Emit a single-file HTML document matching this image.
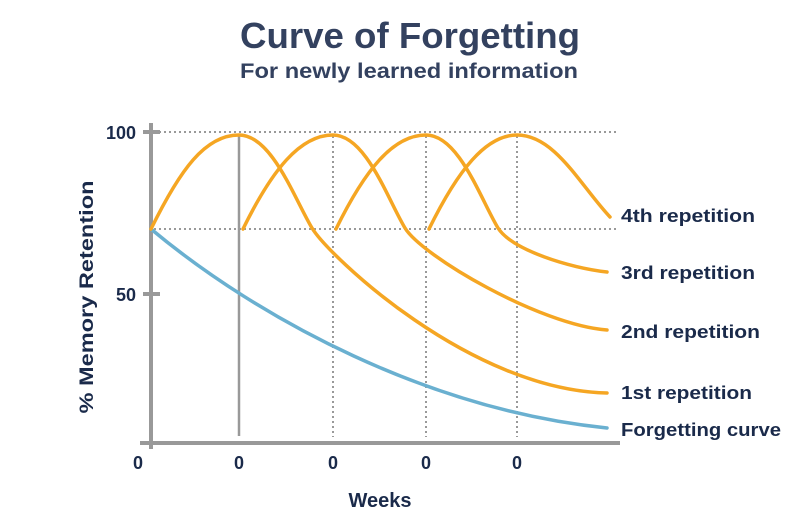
<!DOCTYPE html>
<html><head><meta charset="utf-8"><style>
html,body{margin:0;padding:0;background:#fff;}
svg{display:block;}
text{font-family:"Liberation Sans",sans-serif;font-weight:bold;}
</style></head><body>
<svg width="800" height="529" viewBox="0 0 800 529" xmlns="http://www.w3.org/2000/svg">
<rect width="800" height="529" fill="#fff"/>
<text x="410" y="48" text-anchor="middle" font-size="36" fill="#33415f" textLength="340" lengthAdjust="spacingAndGlyphs">Curve of Forgetting</text>
<text x="409" y="78" text-anchor="middle" font-size="21" fill="#33415f" textLength="338" lengthAdjust="spacingAndGlyphs">For newly learned information</text>
<g stroke="#999" stroke-width="2" stroke-dasharray="2,3" fill="none">
<line x1="154" y1="132" x2="618" y2="132"/>
<line x1="154" y1="229" x2="618" y2="229"/>
<line x1="333" y1="136" x2="333" y2="437"/>
<line x1="426" y1="136" x2="426" y2="437"/>
<line x1="517" y1="136" x2="517" y2="437"/>
</g>
<line x1="239" y1="134" x2="239" y2="436" stroke="#999" stroke-width="2.5"/>
<line x1="151" y1="123" x2="151" y2="449" stroke="#999" stroke-width="4"/>
<line x1="140" y1="443" x2="620" y2="443" stroke="#999" stroke-width="4"/>
<line x1="143" y1="132" x2="160" y2="132" stroke="#999" stroke-width="4"/>
<line x1="143" y1="294" x2="160" y2="294" stroke="#999" stroke-width="4"/>
<g fill="none" stroke-width="3.5" stroke-linecap="round">
<path stroke="#6ab0d0" d="M151,229 C260,320 430,410 607,428"/>
<g stroke="#f5a623">
<path d="M151,229 C180,170 205,135 239,135 C272,135 295,200 312,228 C329,256 470,390 607,393"/>
<path d="M243,229 C272,170 300,135 333,135 C366,135 388,200 405,228 C422,256 540,325 607,330"/>
<path d="M336,229 C365,170 393,135 426,135 C459,135 481,200 498,228 C512,250 570,268 607,272"/>
<path d="M429,229 C458,170 486,135 517,135 C555,135 580,185 610,217"/>
</g>
</g>
<g fill="#1a2a4a" font-size="18">
<text x="136" y="139" text-anchor="end">100</text>
<text x="136" y="301" text-anchor="end">50</text>
<text x="138" y="469" text-anchor="middle">0</text>
<text x="239" y="469" text-anchor="middle">0</text>
<text x="333" y="469" text-anchor="middle">0</text>
<text x="426" y="469" text-anchor="middle">0</text>
<text x="517" y="469" text-anchor="middle">0</text>
<text x="380" y="507" text-anchor="middle" font-size="20">Weeks</text>
<text transform="translate(93,297) rotate(-90)" text-anchor="middle" font-size="19" textLength="233" lengthAdjust="spacingAndGlyphs">% Memory Retention</text>
<text x="621" y="222" textLength="134" lengthAdjust="spacingAndGlyphs">4th repetition</text>
<text x="621" y="279" textLength="134" lengthAdjust="spacingAndGlyphs">3rd repetition</text>
<text x="621" y="338" textLength="139" lengthAdjust="spacingAndGlyphs">2nd repetition</text>
<text x="621" y="399" textLength="131" lengthAdjust="spacingAndGlyphs">1st repetition</text>
<text x="621" y="436" textLength="160" lengthAdjust="spacingAndGlyphs">Forgetting curve</text>
</g>
</svg>
</body></html>
